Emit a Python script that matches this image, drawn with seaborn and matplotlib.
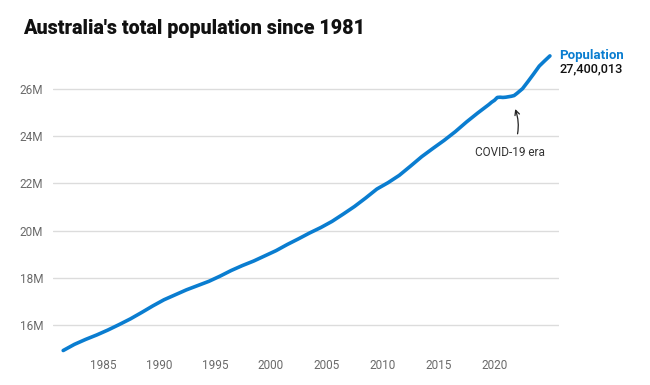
import pandas as pd
import matplotlib.pyplot as plt
import seaborn as sns
from matplotlib.ticker import FuncFormatter

# decimal year (June = .45) and estimated resident population in millions
years = [1981.45, 1982.45, 1983.45, 1984.45, 1985.45, 1986.45, 1987.45, 1988.45,
         1989.45, 1990.45, 1991.45, 1992.45, 1993.45, 1994.45, 1995.45, 1996.45,
         1997.45, 1998.45, 1999.45, 2000.45, 2001.45, 2002.45, 2003.45, 2004.45,
         2005.45, 2006.45, 2007.45, 2008.45, 2009.45, 2010.45, 2011.45, 2012.45,
         2013.45, 2014.45, 2015.45, 2016.45, 2017.45, 2018.45, 2019.45, 2019.7,
         2019.95, 2020.2, 2020.45, 2020.7, 2020.95, 2021.2, 2021.45, 2021.7,
         2021.95, 2022.45, 2022.95, 2023.45, 2023.95, 2024.45, 2024.9]
population = [14.92, 15.18, 15.39, 15.58, 15.79, 16.02, 16.26, 16.53,
              16.81, 17.07, 17.28, 17.49, 17.67, 17.85, 18.07, 18.31,
              18.52, 18.71, 18.93, 19.15, 19.41, 19.65, 19.90, 20.13,
              20.39, 20.70, 21.02, 21.38, 21.76, 22.03, 22.34, 22.73,
              23.13, 23.48, 23.82, 24.19, 24.60, 24.98, 25.34, 25.44,
              25.52, 25.64, 25.65, 25.64, 25.65, 25.67, 25.69, 25.72,
              25.81, 26.01, 26.32, 26.64, 26.97, 27.20, 27.40]
x_ticks = [1985, 1990, 1995, 2000, 2005, 2010, 2015, 2020]
y_ticks = [16, 18, 20, 22, 24, 26]

df = pd.DataFrame({"year": years, "population": population})

sns.set_style("white")
plt.rcParams['font.family'] = ['Roboto', 'DejaVu Sans']

blue = "#0a7dd0"
grey = "#6a6a6a"

fig = plt.figure(figsize=(6.5, 3.85), dpi=100)
ax = fig.add_axes([53 / 650, 30 / 385, 506 / 650, 305 / 385])

ax.set_yticks(y_ticks)
ax.yaxis.grid(True, color="#dcdcdc", linewidth=1)
ax.xaxis.grid(False)
ax.set_axisbelow(True)

sns.lineplot(data=df, x="year", y="population", ax=ax, color=blue,
             linewidth=2.6, clip_on=False, solid_capstyle="round")

ax.set_xlim(1980.54, 2025.71)
ax.set_ylim(14.73, 27.65)
ax.set_xticks(x_ticks)
ax.yaxis.set_major_formatter(FuncFormatter(lambda v, p: f"{v:.0f}M"))
ax.tick_params(axis="both", length=0, labelsize=8.5, labelcolor=grey)
ax.tick_params(axis="y", pad=7)
ax.tick_params(axis="x", pad=3)
ax.set_xlabel("")
ax.set_ylabel("")
for s in ax.spines.values():
    s.set_visible(False)

# end label
ax.text(2025.75, 27.40, "Population", color=blue, fontsize=9.5,
        fontweight="bold", ha="left", va="center", clip_on=False)
ax.text(2025.75, 26.85, "27,400,013", color="#111111", fontsize=9.2,
        fontweight="medium", ha="left", va="center", clip_on=False)

# covid annotation
ax.annotate("COVID-19 era", xy=(2021.8, 25.15), xytext=(2021.3, 23.29),
            ha="center", va="center", fontsize=8.5, color="#333333",
            arrowprops=dict(arrowstyle="->", color="#222222", lw=0.9,
                            connectionstyle="arc3,rad=0.25",
                            shrinkA=7, shrinkB=0))

fig.text(23 / 650, 1 - 28 / 385, "Australia's total population since 1981",
         fontsize=14.2, fontweight="heavy", color="#111111", ha="left", va="center")

fig.savefig("out.png", dpi=100)
